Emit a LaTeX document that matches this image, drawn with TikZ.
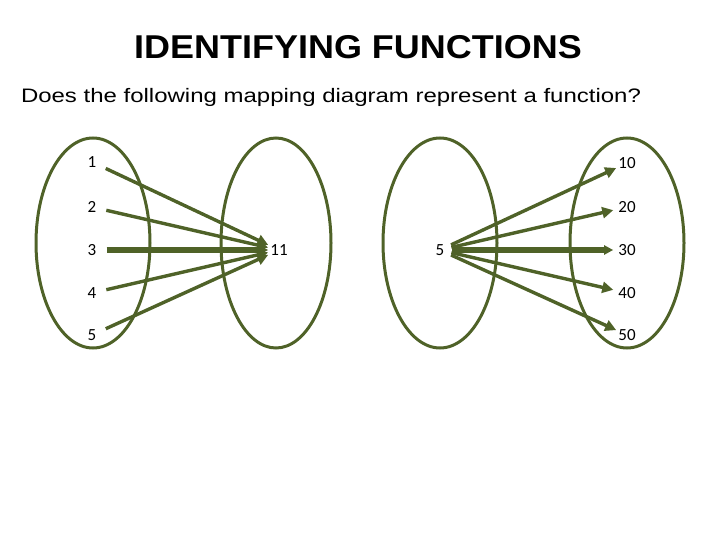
\documentclass[tikz,border=0pt]{standalone}
\usepackage{fontspec}
\setmainfont{Liberation Sans}
\newfontfamily\numfont{Carlito}
\usetikzlibrary{arrows.meta,positioning}
\definecolor{olivedk}{RGB}{79,98,40}

\begin{document}
\begin{tikzpicture}[x=1pt, y=-1pt,
  setring/.style={draw=olivedk, line width=3pt},
  num/.style={font=\numfont\fontsize{17}{19}\selectfont, inner sep=2pt},
  arr/.style={draw=olivedk, line width=3.4pt, -{Triangle[length=11pt, width=11pt]}},
  midarr/.style={arr, line width=5.5pt, -{Triangle[length=9pt, width=9pt]}}]
  \useasboundingbox (0,0) rectangle (720,540);
  \node (title) at (358,47) {\scalebox{1.09}[1]{\fontsize{33}{36}\selectfont\bfseries IDENTIFYING FUNCTIONS}};
  \node (quest) at (331,97) {\scalebox{1.23}[1]{\fontsize{19.5}{22}\selectfont Does the following mapping diagram represent a function?}};
  % the four sets
  \draw[setring] (93,243) ellipse [x radius=57, y radius=105];
  \draw[setring] (276,243) ellipse [x radius=55, y radius=105];
  \draw[setring] (440,243) ellipse [x radius=57, y radius=105];
  \draw[setring] (627,243) ellipse [x radius=57, y radius=105];
  % first mapping
  \foreach \n/\y in {1/162, 2/207, 3/250, 4/293, 5/335}
    \node[num] (d\n) at (92,\y) {\n};
  \node[num] (r11) at (279,250) {11};
  \draw[arr, shorten <=8pt] (d1) -- (r11);
  \draw[arr, shorten <=8pt] (d2) -- (r11);
  \draw[midarr, shorten <=8pt] (d3) -- (r11);
  \draw[arr, shorten <=8pt] (d4) -- (r11);
  \draw[arr, shorten <=8pt] (d5) -- (r11);
  % second mapping
  \node[num] (d55) at (440,250) {5};
  \foreach \n/\y in {10/163, 20/207, 30/250, 40/293, 50/335}
    \node[num] (r\n) at (627,\y) {\n};
  \draw[arr, shorten <=5pt] (d55) -- (r10);
  \draw[arr, shorten <=5pt, shorten >=3pt] (d55) -- (r20);
  \draw[midarr, shorten <=5pt, shorten >=3pt] (d55) -- (r30);
  \draw[arr, shorten <=5pt, shorten >=3pt] (d55) -- (r40);
  \draw[arr, shorten <=5pt] (d55) -- (r50);
\end{tikzpicture}
\end{document}
